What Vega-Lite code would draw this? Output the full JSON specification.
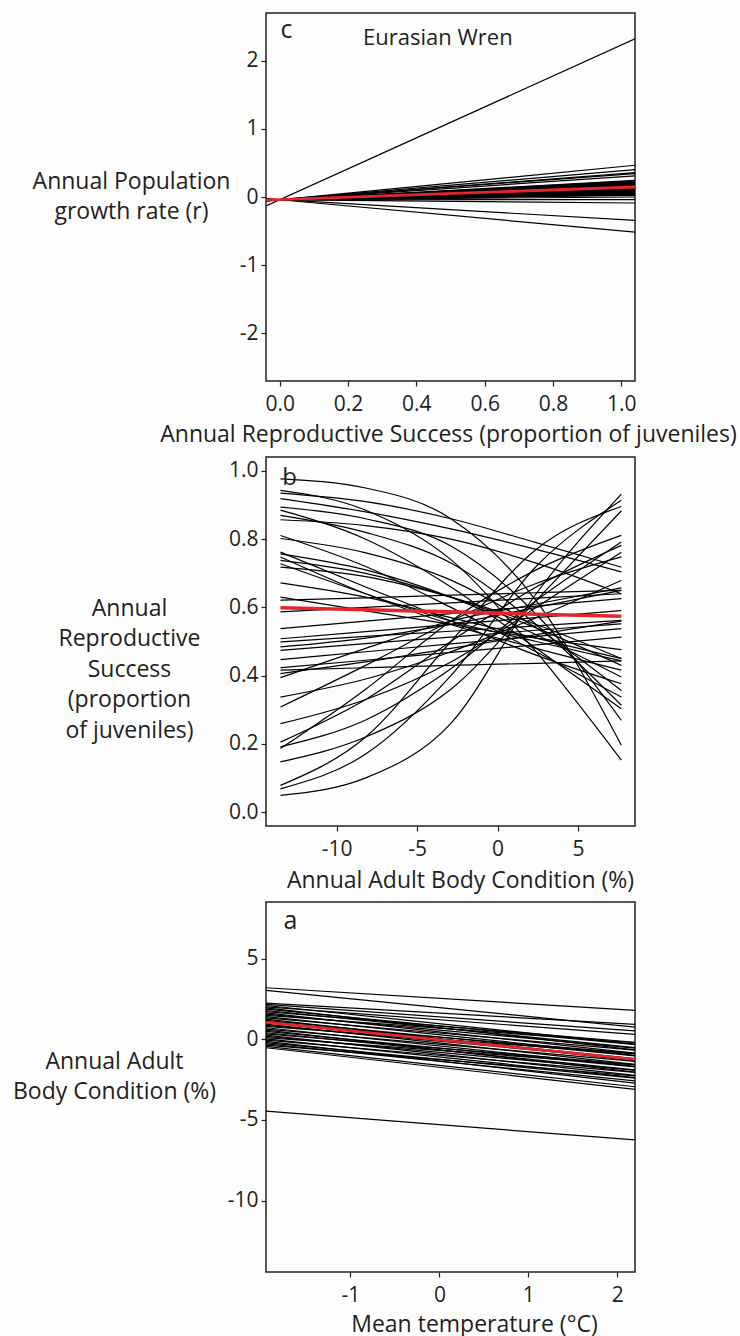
{
  "$schema": "https://vega.github.io/schema/vega-lite/v6.json",
  "background": "#fdfdfd",
  "padding": {"left": 11, "top": 12, "right": 5, "bottom": 5},
  "bounds": "flush",
  "spacing": 76,
  "config": {
    "font": "Open Sans",
    "view": {"stroke": "#231f20", "strokeWidth": 1.5},
    "axis": {
      "grid": false, "domain": false, "ticks": true,
      "tickColor": "#231f20", "tickSize": 5, "tickWidth": 1.2,
      "labelFont": "Open Sans", "labelFontSize": 21, "labelColor": "#231f20",
      "titleFont": "Open Sans", "titleFontSize": 23, "titleFontWeight": "normal", "titleColor": "#231f20",
      "labelFlush": false, "labelOverlap": false
    },
    "axisX": {"labelPadding": 7, "titleAlign": "center", "titleBaseline": "alphabetic"},
    "axisY": {"labelPadding": 3, "titleAngle": 0, "titleAlign": "center", "titleBaseline": "alphabetic", "titleLineHeight": 30},
    "locale": {"number": {"decimal": ".", "thousands": ",", "grouping": [3], "currency": ["", ""], "minus": "-"}}
  },
  "datasets": {
    "growth": [
      {"id": "s01", "x": -0.04, "y": -0.131}, {"id": "s01", "x": 1.04, "y": 2.32},
      {"id": "s02", "x": -0.04, "y": -0.06}, {"id": "s02", "x": 1.04, "y": 0.466},
      {"id": "s03", "x": -0.04, "y": -0.057}, {"id": "s03", "x": 1.04, "y": 0.403},
      {"id": "s04", "x": -0.04, "y": -0.055}, {"id": "s04", "x": 1.04, "y": 0.358},
      {"id": "s05", "x": -0.04, "y": -0.055}, {"id": "s05", "x": 1.04, "y": 0.344},
      {"id": "s06", "x": -0.04, "y": -0.053}, {"id": "s06", "x": 1.04, "y": 0.309},
      {"id": "s07", "x": -0.04, "y": -0.051}, {"id": "s07", "x": 1.04, "y": 0.245},
      {"id": "s08", "x": -0.04, "y": -0.051}, {"id": "s08", "x": 1.04, "y": 0.235},
      {"id": "s09", "x": -0.04, "y": -0.05}, {"id": "s09", "x": 1.04, "y": 0.225},
      {"id": "s10", "x": -0.04, "y": -0.05}, {"id": "s10", "x": 1.04, "y": 0.215},
      {"id": "s11", "x": -0.04, "y": -0.049}, {"id": "s11", "x": 1.04, "y": 0.205},
      {"id": "s12", "x": -0.04, "y": -0.049}, {"id": "s12", "x": 1.04, "y": 0.195},
      {"id": "s13", "x": -0.04, "y": -0.049}, {"id": "s13", "x": 1.04, "y": 0.188},
      {"id": "s14", "x": -0.04, "y": -0.048}, {"id": "s14", "x": 1.04, "y": 0.18},
      {"id": "s15", "x": -0.04, "y": -0.048}, {"id": "s15", "x": 1.04, "y": 0.172},
      {"id": "s16", "x": -0.04, "y": -0.048}, {"id": "s16", "x": 1.04, "y": 0.165},
      {"id": "s17", "x": -0.04, "y": -0.047}, {"id": "s17", "x": 1.04, "y": 0.158},
      {"id": "s18", "x": -0.04, "y": -0.047}, {"id": "s18", "x": 1.04, "y": 0.15},
      {"id": "s19", "x": -0.04, "y": -0.047}, {"id": "s19", "x": 1.04, "y": 0.142},
      {"id": "s20", "x": -0.04, "y": -0.047}, {"id": "s20", "x": 1.04, "y": 0.135},
      {"id": "s21", "x": -0.04, "y": -0.046}, {"id": "s21", "x": 1.04, "y": 0.128},
      {"id": "s22", "x": -0.04, "y": -0.046}, {"id": "s22", "x": 1.04, "y": 0.12},
      {"id": "s23", "x": -0.04, "y": -0.046}, {"id": "s23", "x": 1.04, "y": 0.112},
      {"id": "s24", "x": -0.04, "y": -0.045}, {"id": "s24", "x": 1.04, "y": 0.105},
      {"id": "s25", "x": -0.04, "y": -0.045}, {"id": "s25", "x": 1.04, "y": 0.098},
      {"id": "s26", "x": -0.04, "y": -0.045}, {"id": "s26", "x": 1.04, "y": 0.09},
      {"id": "s27", "x": -0.04, "y": -0.045}, {"id": "s27", "x": 1.04, "y": 0.082},
      {"id": "s28", "x": -0.04, "y": -0.044}, {"id": "s28", "x": 1.04, "y": 0.075},
      {"id": "s29", "x": -0.04, "y": -0.044}, {"id": "s29", "x": 1.04, "y": 0.068},
      {"id": "s30", "x": -0.04, "y": -0.044}, {"id": "s30", "x": 1.04, "y": 0.06},
      {"id": "s31", "x": -0.04, "y": -0.044}, {"id": "s31", "x": 1.04, "y": 0.052},
      {"id": "s32", "x": -0.04, "y": -0.043}, {"id": "s32", "x": 1.04, "y": 0.045},
      {"id": "s33", "x": -0.04, "y": -0.043}, {"id": "s33", "x": 1.04, "y": 0.038},
      {"id": "s34", "x": -0.04, "y": -0.043}, {"id": "s34", "x": 1.04, "y": 0.03},
      {"id": "s35", "x": -0.04, "y": -0.043}, {"id": "s35", "x": 1.04, "y": 0.025},
      {"id": "s36", "x": -0.04, "y": -0.042}, {"id": "s36", "x": 1.04, "y": 0.0},
      {"id": "s37", "x": -0.04, "y": -0.04}, {"id": "s37", "x": 1.04, "y": -0.038},
      {"id": "s38", "x": -0.04, "y": -0.038}, {"id": "s38", "x": 1.04, "y": -0.088},
      {"id": "s39", "x": -0.04, "y": -0.028}, {"id": "s39", "x": 1.04, "y": -0.343},
      {"id": "s40", "x": -0.04, "y": -0.022}, {"id": "s40", "x": 1.04, "y": -0.515},
      {"id": "mean", "x": -0.04, "y": -0.045}, {"id": "mean", "x": 1.04, "y": 0.147}
    ],
    "reproduction": [
      {"id": "r01", "x": -13.5, "y": 0.049}, {"id": "r01", "x": -8.2, "y": 0.10}, {"id": "r01", "x": -2.9, "y": 0.26}, {"id": "r01", "x": 2.4, "y": 0.64}, {"id": "r01", "x": 7.7, "y": 0.932},
      {"id": "r02", "x": -13.5, "y": 0.068}, {"id": "r02", "x": -8.2, "y": 0.17}, {"id": "r02", "x": -2.9, "y": 0.40}, {"id": "r02", "x": 2.4, "y": 0.72}, {"id": "r02", "x": 7.7, "y": 0.914},
      {"id": "r03", "x": -13.5, "y": 0.078}, {"id": "r03", "x": -8.2, "y": 0.22}, {"id": "r03", "x": -2.9, "y": 0.50}, {"id": "r03", "x": 2.4, "y": 0.77}, {"id": "r03", "x": 7.7, "y": 0.896},
      {"id": "r04", "x": -13.5, "y": 0.147}, {"id": "r04", "x": -8.2, "y": 0.22}, {"id": "r04", "x": -2.9, "y": 0.36}, {"id": "r04", "x": 2.4, "y": 0.62}, {"id": "r04", "x": 7.7, "y": 0.883},
      {"id": "r05", "x": -13.5, "y": 0.186}, {"id": "r05", "x": -8.2, "y": 0.36}, {"id": "r05", "x": -2.9, "y": 0.56}, {"id": "r05", "x": 2.4, "y": 0.71}, {"id": "r05", "x": 7.7, "y": 0.811},
      {"id": "r06", "x": -13.5, "y": 0.191}, {"id": "r06", "x": -8.2, "y": 0.27}, {"id": "r06", "x": -2.9, "y": 0.42}, {"id": "r06", "x": 2.4, "y": 0.62}, {"id": "r06", "x": 7.7, "y": 0.792},
      {"id": "r07", "x": -13.5, "y": 0.205}, {"id": "r07", "x": -8.2, "y": 0.33}, {"id": "r07", "x": -2.9, "y": 0.50}, {"id": "r07", "x": 2.4, "y": 0.66}, {"id": "r07", "x": 7.7, "y": 0.782},
      {"id": "r08", "x": -13.5, "y": 0.259}, {"id": "r08", "x": -8.2, "y": 0.33}, {"id": "r08", "x": -2.9, "y": 0.44}, {"id": "r08", "x": 2.4, "y": 0.60}, {"id": "r08", "x": 7.7, "y": 0.762},
      {"id": "r09", "x": -13.5, "y": 0.308}, {"id": "r09", "x": -8.2, "y": 0.43}, {"id": "r09", "x": -2.9, "y": 0.56}, {"id": "r09", "x": 2.4, "y": 0.67}, {"id": "r09", "x": 7.7, "y": 0.748},
      {"id": "r10", "x": -13.5, "y": 0.337}, {"id": "r10", "x": -8.2, "y": 0.39}, {"id": "r10", "x": -2.9, "y": 0.47}, {"id": "r10", "x": 2.4, "y": 0.57}, {"id": "r10", "x": 7.7, "y": 0.679},
      {"id": "r11", "x": -13.5, "y": 0.394}, {"id": "r11", "x": -8.2, "y": 0.48}, {"id": "r11", "x": -2.9, "y": 0.56}, {"id": "r11", "x": 2.4, "y": 0.61}, {"id": "r11", "x": 7.7, "y": 0.657},
      {"id": "r12", "x": -13.5, "y": 0.484}, {"id": "r12", "x": -8.2, "y": 0.51}, {"id": "r12", "x": -2.9, "y": 0.55}, {"id": "r12", "x": 2.4, "y": 0.60}, {"id": "r12", "x": 7.7, "y": 0.650},
      {"id": "d01", "x": -13.5, "y": 0.977}, {"id": "d01", "x": -8.2, "y": 0.95}, {"id": "d01", "x": -2.9, "y": 0.86}, {"id": "d01", "x": 2.4, "y": 0.62}, {"id": "d01", "x": 7.7, "y": 0.196},
      {"id": "d02", "x": -13.5, "y": 0.943}, {"id": "d02", "x": -8.2, "y": 0.885}, {"id": "d02", "x": -2.9, "y": 0.74}, {"id": "d02", "x": 2.4, "y": 0.47}, {"id": "d02", "x": 7.7, "y": 0.152},
      {"id": "d03", "x": -13.5, "y": 0.935}, {"id": "d03", "x": -8.2, "y": 0.91}, {"id": "d03", "x": -2.9, "y": 0.86}, {"id": "d03", "x": 2.4, "y": 0.79}, {"id": "d03", "x": 7.7, "y": 0.718},
      {"id": "d04", "x": -13.5, "y": 0.919}, {"id": "d04", "x": -8.2, "y": 0.88}, {"id": "d04", "x": -2.9, "y": 0.83}, {"id": "d04", "x": 2.4, "y": 0.77}, {"id": "d04", "x": 7.7, "y": 0.704},
      {"id": "d05", "x": -13.5, "y": 0.894}, {"id": "d05", "x": -8.2, "y": 0.86}, {"id": "d05", "x": -2.9, "y": 0.78}, {"id": "d05", "x": 2.4, "y": 0.58}, {"id": "d05", "x": 7.7, "y": 0.269},
      {"id": "d06", "x": -13.5, "y": 0.885}, {"id": "d06", "x": -8.2, "y": 0.80}, {"id": "d06", "x": -2.9, "y": 0.66}, {"id": "d06", "x": 2.4, "y": 0.48}, {"id": "d06", "x": 7.7, "y": 0.303},
      {"id": "d07", "x": -13.5, "y": 0.870}, {"id": "d07", "x": -8.2, "y": 0.82}, {"id": "d07", "x": -2.9, "y": 0.73}, {"id": "d07", "x": 2.4, "y": 0.55}, {"id": "d07", "x": 7.7, "y": 0.313},
      {"id": "d08", "x": -13.5, "y": 0.857}, {"id": "d08", "x": -8.2, "y": 0.84}, {"id": "d08", "x": -2.9, "y": 0.80}, {"id": "d08", "x": 2.4, "y": 0.73}, {"id": "d08", "x": 7.7, "y": 0.640},
      {"id": "d09", "x": -13.5, "y": 0.811}, {"id": "d09", "x": -8.2, "y": 0.72}, {"id": "d09", "x": -2.9, "y": 0.60}, {"id": "d09", "x": 2.4, "y": 0.47}, {"id": "d09", "x": 7.7, "y": 0.337},
      {"id": "d10", "x": -13.5, "y": 0.802}, {"id": "d10", "x": -8.2, "y": 0.76}, {"id": "d10", "x": -2.9, "y": 0.68}, {"id": "d10", "x": 2.4, "y": 0.54}, {"id": "d10", "x": 7.7, "y": 0.356},
      {"id": "d11", "x": -13.5, "y": 0.762}, {"id": "d11", "x": -8.2, "y": 0.66}, {"id": "d11", "x": -2.9, "y": 0.56}, {"id": "d11", "x": 2.4, "y": 0.46}, {"id": "d11", "x": 7.7, "y": 0.376},
      {"id": "d12", "x": -13.5, "y": 0.757}, {"id": "d12", "x": -8.2, "y": 0.71}, {"id": "d12", "x": -2.9, "y": 0.63}, {"id": "d12", "x": 2.4, "y": 0.52}, {"id": "d12", "x": 7.7, "y": 0.396},
      {"id": "d13", "x": -13.5, "y": 0.748}, {"id": "d13", "x": -8.2, "y": 0.64}, {"id": "d13", "x": -2.9, "y": 0.55}, {"id": "d13", "x": 2.4, "y": 0.48}, {"id": "d13", "x": 7.7, "y": 0.416},
      {"id": "d14", "x": -13.5, "y": 0.738}, {"id": "d14", "x": -8.2, "y": 0.70}, {"id": "d14", "x": -2.9, "y": 0.63}, {"id": "d14", "x": 2.4, "y": 0.54}, {"id": "d14", "x": 7.7, "y": 0.430},
      {"id": "d15", "x": -13.5, "y": 0.728}, {"id": "d15", "x": -8.2, "y": 0.64}, {"id": "d15", "x": -2.9, "y": 0.56}, {"id": "d15", "x": 2.4, "y": 0.50}, {"id": "d15", "x": 7.7, "y": 0.443},
      {"id": "d16", "x": -13.5, "y": 0.718}, {"id": "d16", "x": -8.2, "y": 0.69}, {"id": "d16", "x": -2.9, "y": 0.63}, {"id": "d16", "x": 2.4, "y": 0.55}, {"id": "d16", "x": 7.7, "y": 0.450},
      {"id": "d17", "x": -13.5, "y": 0.672}, {"id": "d17", "x": -8.2, "y": 0.63}, {"id": "d17", "x": -2.9, "y": 0.57}, {"id": "d17", "x": 2.4, "y": 0.51}, {"id": "d17", "x": 7.7, "y": 0.450},
      {"id": "d18", "x": -13.5, "y": 0.630}, {"id": "d18", "x": -8.2, "y": 0.59}, {"id": "d18", "x": -2.9, "y": 0.55}, {"id": "d18", "x": 2.4, "y": 0.51}, {"id": "d18", "x": 7.7, "y": 0.476},
      {"id": "f01", "x": -13.5, "y": 0.621}, {"id": "f01", "x": -8.2, "y": 0.628}, {"id": "f01", "x": -2.9, "y": 0.636}, {"id": "f01", "x": 2.4, "y": 0.643}, {"id": "f01", "x": 7.7, "y": 0.650},
      {"id": "f02", "x": -13.5, "y": 0.587}, {"id": "f02", "x": -8.2, "y": 0.600}, {"id": "f02", "x": -2.9, "y": 0.613}, {"id": "f02", "x": 2.4, "y": 0.627}, {"id": "f02", "x": 7.7, "y": 0.640},
      {"id": "f03", "x": -13.5, "y": 0.538}, {"id": "f03", "x": -8.2, "y": 0.560}, {"id": "f03", "x": -2.9, "y": 0.582}, {"id": "f03", "x": 2.4, "y": 0.604}, {"id": "f03", "x": 7.7, "y": 0.626},
      {"id": "f04", "x": -13.5, "y": 0.508}, {"id": "f04", "x": -8.2, "y": 0.529}, {"id": "f04", "x": -2.9, "y": 0.550}, {"id": "f04", "x": 2.4, "y": 0.570}, {"id": "f04", "x": 7.7, "y": 0.591},
      {"id": "f05", "x": -13.5, "y": 0.499}, {"id": "f05", "x": -8.2, "y": 0.515}, {"id": "f05", "x": -2.9, "y": 0.530}, {"id": "f05", "x": 2.4, "y": 0.546}, {"id": "f05", "x": 7.7, "y": 0.562},
      {"id": "f06", "x": -13.5, "y": 0.474}, {"id": "f06", "x": -8.2, "y": 0.494}, {"id": "f06", "x": -2.9, "y": 0.513}, {"id": "f06", "x": 2.4, "y": 0.533}, {"id": "f06", "x": 7.7, "y": 0.552},
      {"id": "f07", "x": -13.5, "y": 0.447}, {"id": "f07", "x": -8.2, "y": 0.470}, {"id": "f07", "x": -2.9, "y": 0.493}, {"id": "f07", "x": 2.4, "y": 0.515}, {"id": "f07", "x": 7.7, "y": 0.538},
      {"id": "f08", "x": -13.5, "y": 0.423}, {"id": "f08", "x": -8.2, "y": 0.445}, {"id": "f08", "x": -2.9, "y": 0.468}, {"id": "f08", "x": 2.4, "y": 0.490}, {"id": "f08", "x": 7.7, "y": 0.513},
      {"id": "f09", "x": -13.5, "y": 0.416}, {"id": "f09", "x": -8.2, "y": 0.423}, {"id": "f09", "x": -2.9, "y": 0.430}, {"id": "f09", "x": 2.4, "y": 0.436}, {"id": "f09", "x": 7.7, "y": 0.443},
      {"id": "f10", "x": -13.5, "y": 0.406}, {"id": "f10", "x": -8.2, "y": 0.440}, {"id": "f10", "x": -2.9, "y": 0.480}, {"id": "f10", "x": 2.4, "y": 0.520}, {"id": "f10", "x": 7.7, "y": 0.560},
      {"id": "mean", "x": -13.5, "y": 0.599}, {"id": "mean", "x": -8.2, "y": 0.593}, {"id": "mean", "x": -2.9, "y": 0.587}, {"id": "mean", "x": 2.4, "y": 0.580}, {"id": "mean", "x": 7.7, "y": 0.574}
    ],
    "condition": [
      {"id": "a01", "x": -1.95, "y": 3.20}, {"id": "a01", "x": 2.2, "y": 1.80},
      {"id": "a02", "x": -1.95, "y": 3.04}, {"id": "a02", "x": 2.2, "y": 0.76},
      {"id": "a03", "x": -1.95, "y": 2.25}, {"id": "a03", "x": 2.2, "y": 0.93},
      {"id": "a04", "x": -1.95, "y": 2.17}, {"id": "a04", "x": 2.2, "y": 0.52},
      {"id": "a05", "x": -1.95, "y": 2.10}, {"id": "a05", "x": 2.2, "y": -0.30},
      {"id": "a06", "x": -1.95, "y": 2.02}, {"id": "a06", "x": 2.2, "y": 0.31},
      {"id": "a07", "x": -1.95, "y": 1.95}, {"id": "a07", "x": 2.2, "y": -0.65},
      {"id": "a08", "x": -1.95, "y": 1.87}, {"id": "a08", "x": 2.2, "y": -0.33},
      {"id": "a09", "x": -1.95, "y": 1.79}, {"id": "a09", "x": 2.2, "y": -0.51},
      {"id": "a10", "x": -1.95, "y": 1.72}, {"id": "a10", "x": 2.2, "y": -0.18},
      {"id": "a11", "x": -1.95, "y": 1.64}, {"id": "a11", "x": 2.2, "y": -0.86},
      {"id": "a12", "x": -1.95, "y": 1.56}, {"id": "a12", "x": 2.2, "y": -0.54},
      {"id": "a13", "x": -1.95, "y": 1.49}, {"id": "a13", "x": 2.2, "y": -0.21},
      {"id": "a14", "x": -1.95, "y": 1.41}, {"id": "a14", "x": 2.2, "y": -0.99},
      {"id": "a15", "x": -1.95, "y": 1.33}, {"id": "a15", "x": 2.2, "y": -0.67},
      {"id": "a16", "x": -1.95, "y": 1.26}, {"id": "a16", "x": 2.2, "y": -1.34},
      {"id": "a17", "x": -1.95, "y": 1.18}, {"id": "a17", "x": 2.2, "y": -1.02},
      {"id": "a18", "x": -1.95, "y": 1.10}, {"id": "a18", "x": 2.2, "y": -1.20},
      {"id": "a19", "x": -1.95, "y": 1.03}, {"id": "a19", "x": 2.2, "y": -0.87},
      {"id": "a20", "x": -1.95, "y": 0.95}, {"id": "a20", "x": 2.2, "y": -1.55},
      {"id": "a21", "x": -1.95, "y": 0.87}, {"id": "a21", "x": 2.2, "y": -1.23},
      {"id": "a22", "x": -1.95, "y": 0.80}, {"id": "a22", "x": 2.2, "y": -0.90},
      {"id": "a23", "x": -1.95, "y": 0.72}, {"id": "a23", "x": 2.2, "y": -1.68},
      {"id": "a24", "x": -1.95, "y": 0.64}, {"id": "a24", "x": 2.2, "y": -1.36},
      {"id": "a25", "x": -1.95, "y": 0.57}, {"id": "a25", "x": 2.2, "y": -2.03},
      {"id": "a26", "x": -1.95, "y": 0.49}, {"id": "a26", "x": 2.2, "y": -1.71},
      {"id": "a27", "x": -1.95, "y": 0.41}, {"id": "a27", "x": 2.2, "y": -1.89},
      {"id": "a28", "x": -1.95, "y": 0.34}, {"id": "a28", "x": 2.2, "y": -1.56},
      {"id": "a29", "x": -1.95, "y": 0.26}, {"id": "a29", "x": 2.2, "y": -2.24},
      {"id": "a30", "x": -1.95, "y": 0.18}, {"id": "a30", "x": 2.2, "y": -1.92},
      {"id": "a31", "x": -1.95, "y": 0.11}, {"id": "a31", "x": 2.2, "y": -1.59},
      {"id": "a32", "x": -1.95, "y": 0.03}, {"id": "a32", "x": 2.2, "y": -2.37},
      {"id": "a33", "x": -1.95, "y": -0.05}, {"id": "a33", "x": 2.2, "y": -2.05},
      {"id": "a34", "x": -1.95, "y": -0.12}, {"id": "a34", "x": 2.2, "y": -2.72},
      {"id": "a35", "x": -1.95, "y": -0.20}, {"id": "a35", "x": 2.2, "y": -2.40},
      {"id": "a36", "x": -1.95, "y": -0.28}, {"id": "a36", "x": 2.2, "y": -2.58},
      {"id": "a37", "x": -1.95, "y": -0.36}, {"id": "a37", "x": 2.2, "y": -2.26},
      {"id": "a38", "x": -1.95, "y": -0.44}, {"id": "a38", "x": 2.2, "y": -2.94},
      {"id": "a39", "x": -1.95, "y": -0.52}, {"id": "a39", "x": 2.2, "y": -3.10},
      {"id": "a40", "x": -1.95, "y": -4.45}, {"id": "a40", "x": 2.2, "y": -6.24},
      {"id": "mean", "x": -1.95, "y": 1.05}, {"id": "mean", "x": 2.2, "y": -1.24}
    ]
  },
  "vconcat": [
    {
      "width": 369,
      "height": 368,
      "layer": [
        {
          "data": {"name": "growth"},
          "transform": [{"filter": "datum.id !== 'mean'"}],
          "mark": {"type": "line", "color": "#000000", "strokeWidth": 1.2, "clip": true},
          "encoding": {
            "x": {
              "field": "x", "type": "quantitative",
              "scale": {"domain": [-0.04, 1.04], "nice": false, "zero": false},
              "axis": {"values": [0, 0.2, 0.4, 0.6, 0.8, 1.0], "format": ".1f",
                       "title": "Annual Reproductive Success (proportion of juveniles)", "titleX": 182, "titleY": 60}
            },
            "y": {
              "field": "y", "type": "quantitative",
              "scale": {"domain": [-2.7, 2.7], "nice": false, "zero": false},
              "axis": {"values": [-2, -1, 0, 1, 2], "format": "d",
                       "title": ["Annual Population", "growth rate (r)"], "titleX": -135, "titleY": 175}
            },
            "detail": {"field": "id"}
          }
        },
        {
          "data": {"name": "growth"},
          "transform": [{"filter": "datum.id === 'mean'"}],
          "mark": {"type": "line", "color": "#e3262b", "strokeWidth": 2.8, "clip": true},
          "encoding": {"x": {"field": "x", "type": "quantitative"}, "y": {"field": "y", "type": "quantitative"}}
        },
        {
          "data": {"values": [{}]},
          "mark": {"type": "text", "text": "c", "font": "Open Sans", "fontSize": 25, "align": "center", "baseline": "alphabetic", "color": "#231f20"},
          "encoding": {"x": {"datum": 0.02, "type": "quantitative"}, "y": {"datum": 2.33, "type": "quantitative"}}
        },
        {
          "data": {"values": [{}]},
          "mark": {"type": "text", "text": "Eurasian Wren", "font": "Open Sans", "fontSize": 22, "align": "center", "baseline": "alphabetic", "color": "#231f20"},
          "encoding": {"x": {"datum": 0.463, "type": "quantitative"}, "y": {"datum": 2.23, "type": "quantitative"}}
        }
      ]
    },
    {
      "width": 369,
      "height": 369,
      "layer": [
        {
          "data": {"name": "reproduction"},
          "transform": [{"filter": "datum.id !== 'mean'"}],
          "mark": {"type": "line", "color": "#000000", "strokeWidth": 1.2, "interpolate": "monotone", "clip": true},
          "encoding": {
            "x": {
              "field": "x", "type": "quantitative",
              "scale": {"domain": [-14.4, 8.55], "nice": false, "zero": false},
              "axis": {"values": [-10, -5, 0, 5], "format": "d",
                       "title": "Annual Adult Body Condition (%)", "titleX": 194, "titleY": 61}
            },
            "y": {
              "field": "y", "type": "quantitative",
              "scale": {"domain": [-0.041, 1.041], "nice": false, "zero": false},
              "axis": {"values": [0, 0.2, 0.4, 0.6, 0.8, 1.0], "format": ".1f",
                       "title": ["Annual", "Reproductive", "Success", "(proportion", "of juveniles)"], "titleX": -137, "titleY": 158, "titleLineHeight": 30.5}
            },
            "detail": {"field": "id"}
          }
        },
        {
          "data": {"name": "reproduction"},
          "transform": [{"filter": "datum.id === 'mean'"}],
          "mark": {"type": "line", "color": "#e3262b", "strokeWidth": 3.6, "interpolate": "monotone", "clip": true},
          "encoding": {"x": {"field": "x", "type": "quantitative"}, "y": {"field": "y", "type": "quantitative"}}
        },
        {
          "data": {"values": [{}]},
          "mark": {"type": "text", "text": "b", "font": "Open Sans", "fontSize": 24, "align": "center", "baseline": "alphabetic", "color": "#231f20"},
          "encoding": {"x": {"datum": -12.93, "type": "quantitative"}, "y": {"datum": 0.958, "type": "quantitative"}}
        }
      ]
    },
    {
      "width": 369,
      "height": 370,
      "layer": [
        {
          "data": {"name": "condition"},
          "transform": [{"filter": "datum.id !== 'mean'"}],
          "mark": {"type": "line", "color": "#000000", "strokeWidth": 1.2, "clip": true},
          "encoding": {
            "x": {
              "field": "x", "type": "quantitative",
              "scale": {"domain": [-1.95, 2.2], "nice": false, "zero": false},
              "axis": {"values": [-1, 0, 1, 2], "format": "d",
                       "title": "Mean temperature (°C)", "titleX": 208, "titleY": 59}
            },
            "y": {
              "field": "y", "type": "quantitative",
              "scale": {"domain": [-14.43, 8.52], "nice": false, "zero": false},
              "axis": {"values": [-10, -5, 0, 5], "format": "d",
                       "title": ["Annual Adult", "Body Condition (%)"], "titleX": -152, "titleY": 166}
            },
            "detail": {"field": "id"}
          }
        },
        {
          "data": {"name": "condition"},
          "transform": [{"filter": "datum.id === 'mean'"}],
          "mark": {"type": "line", "color": "#e3262b", "strokeWidth": 2.8, "clip": true},
          "encoding": {"x": {"field": "x", "type": "quantitative"}, "y": {"field": "y", "type": "quantitative"}}
        },
        {
          "data": {"values": [{}]},
          "mark": {"type": "text", "text": "a", "font": "Open Sans", "fontSize": 25, "align": "center", "baseline": "alphabetic", "color": "#231f20"},
          "encoding": {"x": {"datum": -1.674, "type": "quantitative"}, "y": {"datum": 6.83, "type": "quantitative"}}
        }
      ]
    }
  ]
}
